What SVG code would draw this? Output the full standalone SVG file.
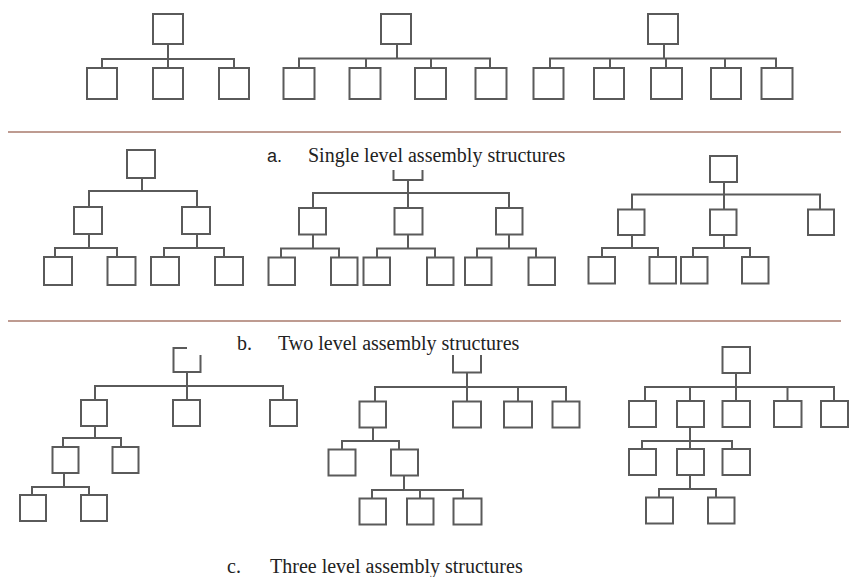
<svg xmlns="http://www.w3.org/2000/svg" width="849" height="577" viewBox="0 0 849 577">
<style>
.n rect,.n path{fill:#fff;stroke:#5a5a5a;stroke-width:2}
.n path{fill:none}
#connectors path{fill:none;stroke:#5a5a5a;stroke-width:2}
.sep{stroke:#a87a6c;stroke-width:1.6}
.cap{font-family:"Liberation Serif","Times New Roman",serif;font-size:20px;fill:#222}
.lab{font-family:"Liberation Sans",Arial,sans-serif;font-size:18px;fill:#222}
</style>
<rect width="849" height="577" fill="#fff"/>
<line class="sep" x1="8" y1="132" x2="841" y2="132"/>
<line class="sep" x1="8" y1="321" x2="841" y2="321"/>

<g id="connectors">
<!-- a1 -->
<path d="M168,44V59M102,68V59H234V68M168,59V68"/>
<!-- a2 -->
<path d="M397,44V58.5M299,68V58.5H490V68M366,58.5V68M431,58.5V68"/>
<!-- a3 -->
<path d="M664,44V58.5M550,68V58.5H776V68M610,58.5V68M666,58.5V68M725,58.5V68"/>
<!-- b1 -->
<path d="M142,178V191M89,207V191H197V207M89,234V248M55,257V248H117V257M197,234V248M164,257V248H224V257"/>
<!-- b2 -->
<path d="M408,180V193M313,208V193H509V208M408,193V208M313,234.5V248.5M281,257.5V248.5H339V257.5M408,234.5V248.5M377,257.5V248.5H435V257.5M509,234.5V248.5M477,257.5V248.5H536V257.5"/>
<!-- b3 -->
<path d="M724,182V194.5M632,209.5V194.5H820V209.5M724,194.5V209.5M632,235V248M602,257V248H658V257M724,235V248M693,257V248H750V257"/>
<!-- c1 -->
<path d="M187,372V386M95,400V386H283V400M187,386V400M95,426V438M63,447V438H121V447M64,473V487M32,495V487H89V495"/>
<!-- c2 -->
<path d="M467,372.5V387M375,401.5V387H566V401.5M467,387V401.5M518,387V401.5M373,427.5V441M342,449.5V441H399V449.5M404,475.5V490M372,498.5V490H463V498.5M420,490V498.5"/>
<!-- c3 -->
<path d="M736,373V387M645,401V387H834V401M690,387V401M736,387V401M787.5,387V401M690,427V441M642,449V441H732V449M690,441V449M690,475V489M659,497.5V489H716V497.5"/>
</g>

<!-- a. single level -->
<g id="a1-root" class="n"><rect x="153" y="14" width="30" height="30"/></g>
<g id="a1-c1" class="n"><rect x="87" y="68" width="30" height="31"/></g>
<g id="a1-c2" class="n"><rect x="153" y="68" width="30" height="31"/></g>
<g id="a1-c3" class="n"><rect x="219" y="68" width="30" height="31"/></g>

<g id="a2-root" class="n"><rect x="381" y="14" width="30" height="30"/></g>
<g id="a2-c1" class="n"><rect x="283.5" y="68" width="31" height="31"/></g>
<g id="a2-c2" class="n"><rect x="349.5" y="68" width="31" height="31"/></g>
<g id="a2-c3" class="n"><rect x="415" y="68" width="31" height="31"/></g>
<g id="a2-c4" class="n"><rect x="475.5" y="68" width="31" height="31"/></g>

<g id="a3-root" class="n"><rect x="648" y="14" width="30" height="30"/></g>
<g id="a3-c1" class="n"><rect x="533.5" y="68" width="30" height="31"/></g>
<g id="a3-c2" class="n"><rect x="594" y="68" width="30" height="31"/></g>
<g id="a3-c3" class="n"><rect x="651" y="68" width="31" height="31"/></g>
<g id="a3-c4" class="n"><rect x="711" y="68" width="30" height="31"/></g>
<g id="a3-c5" class="n"><rect x="761.5" y="68" width="31" height="31"/></g>

<!-- b. two level -->
<g id="b1-root" class="n"><rect x="127" y="150" width="28" height="28"/></g>
<g id="b1-l1a" class="n"><rect x="74" y="207" width="28" height="27"/></g>
<g id="b1-l1b" class="n"><rect x="182" y="207" width="28" height="27"/></g>
<g id="b1-l2a" class="n"><rect x="44" y="257" width="28" height="28"/></g>
<g id="b1-l2b" class="n"><rect x="107.5" y="257" width="28" height="28"/></g>
<g id="b1-l2c" class="n"><rect x="151" y="257" width="28" height="28"/></g>
<g id="b1-l2d" class="n"><rect x="215" y="257" width="28" height="28"/></g>

<g id="b2-root" class="n"><path d="M393.5,170V180H422.5V170"/></g>
<g id="b2-l1a" class="n"><rect x="299" y="208" width="27" height="26.5"/></g>
<g id="b2-l1b" class="n"><rect x="394.5" y="208" width="28" height="26.5"/></g>
<g id="b2-l1c" class="n"><rect x="496" y="208" width="26.5" height="26.5"/></g>
<g id="b2-l2a" class="n"><rect x="268.5" y="257.5" width="26.5" height="27.5"/></g>
<g id="b2-l2b" class="n"><rect x="331" y="257.5" width="26.5" height="27.5"/></g>
<g id="b2-l2c" class="n"><rect x="363.5" y="257.5" width="26.5" height="27.5"/></g>
<g id="b2-l2d" class="n"><rect x="427" y="257.5" width="26.5" height="27.5"/></g>
<g id="b2-l2e" class="n"><rect x="465" y="257.5" width="26.5" height="27.5"/></g>
<g id="b2-l2f" class="n"><rect x="528.5" y="257.5" width="26.5" height="27.5"/></g>

<g id="b3-root" class="n"><rect x="710" y="156" width="27" height="26"/></g>
<g id="b3-l1a" class="n"><rect x="618" y="209.5" width="26.5" height="25.5"/></g>
<g id="b3-l1b" class="n"><rect x="710" y="209.5" width="26.5" height="25.5"/></g>
<g id="b3-l1c" class="n"><rect x="808" y="209.5" width="26" height="25.5"/></g>
<g id="b3-l2a" class="n"><rect x="588.5" y="257" width="26.5" height="26.5"/></g>
<g id="b3-l2b" class="n"><rect x="649.5" y="257" width="26.5" height="26.5"/></g>
<g id="b3-l2c" class="n"><rect x="681" y="257" width="26.5" height="26.5"/></g>
<g id="b3-l2d" class="n"><rect x="742" y="257" width="26.5" height="26.5"/></g>

<!-- c. three level -->
<g id="c1-root" class="n"><path d="M187,348H173.5V372H200.5V355"/></g>
<g id="c1-l1a" class="n"><rect x="81" y="400" width="26" height="26"/></g>
<g id="c1-l1b" class="n"><rect x="173" y="400" width="27" height="26"/></g>
<g id="c1-l1c" class="n"><rect x="270" y="400" width="27" height="26"/></g>
<g id="c1-l2a" class="n"><rect x="52.5" y="447" width="26" height="26"/></g>
<g id="c1-l2b" class="n"><rect x="112.5" y="447" width="26" height="26"/></g>
<g id="c1-l3a" class="n"><rect x="20" y="495" width="26" height="26"/></g>
<g id="c1-l3b" class="n"><rect x="81" y="495" width="26" height="26"/></g>

<g id="c2-root" class="n"><path d="M453,355V372.5H481V355"/></g>
<g id="c2-l1a" class="n"><rect x="359.5" y="401.5" width="26.5" height="26"/></g>
<g id="c2-l1b" class="n"><rect x="453" y="401.5" width="28" height="26"/></g>
<g id="c2-l1c" class="n"><rect x="504" y="401.5" width="28" height="26"/></g>
<g id="c2-l1d" class="n"><rect x="552.5" y="401.5" width="27" height="26"/></g>
<g id="c2-l2a" class="n"><rect x="328.5" y="449.5" width="27" height="26"/></g>
<g id="c2-l2b" class="n"><rect x="391" y="449.5" width="27" height="26"/></g>
<g id="c2-l3a" class="n"><rect x="359.5" y="498.5" width="26.5" height="26"/></g>
<g id="c2-l3b" class="n"><rect x="407" y="498.5" width="26.5" height="26"/></g>
<g id="c2-l3c" class="n"><rect x="453.5" y="498.5" width="28" height="26"/></g>

<g id="c3-root" class="n"><rect x="722.5" y="347" width="27.5" height="26"/></g>
<g id="c3-l1a" class="n"><rect x="629" y="401" width="27" height="26"/></g>
<g id="c3-l1b" class="n"><rect x="677" y="401" width="27" height="26"/></g>
<g id="c3-l1c" class="n"><rect x="722.5" y="401" width="27.5" height="26"/></g>
<g id="c3-l1d" class="n"><rect x="774" y="401" width="27.5" height="26"/></g>
<g id="c3-l1e" class="n"><rect x="821" y="401" width="27" height="26"/></g>
<g id="c3-l2a" class="n"><rect x="629" y="449" width="27" height="26"/></g>
<g id="c3-l2b" class="n"><rect x="677" y="449" width="27" height="26"/></g>
<g id="c3-l2c" class="n"><rect x="722.5" y="449" width="27.5" height="26"/></g>
<g id="c3-l3a" class="n"><rect x="646" y="497.5" width="27" height="26"/></g>
<g id="c3-l3b" class="n"><rect x="708" y="497.5" width="26.5" height="26"/></g>

<!-- captions -->
<text class="lab" x="267" y="162">a.</text>
<text class="cap" x="308" y="162">Single level assembly structures</text>
<text class="cap" x="237" y="350">b.</text>
<text class="cap" x="278" y="350">Two level assembly structures</text>
<text class="cap" x="227" y="573">c.</text>
<text class="cap" x="270" y="573">Three level assembly structures</text>
</svg>
